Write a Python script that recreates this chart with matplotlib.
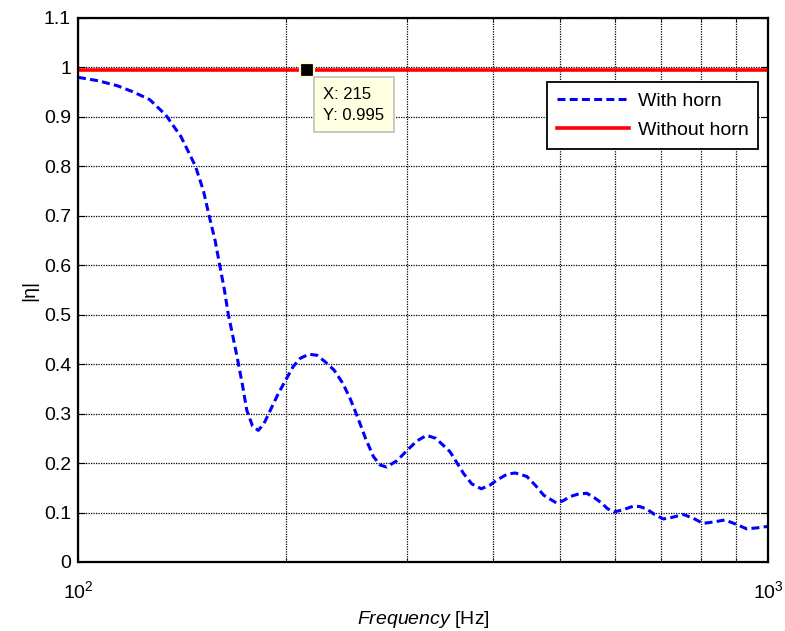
import numpy as np
import matplotlib.pyplot as plt
from matplotlib.ticker import NullFormatter

plt.rcParams['font.family'] = ['Liberation Sans', 'DejaVu Sans']
plt.rcParams['mathtext.fontset'] = 'custom'
plt.rcParams['mathtext.rm'] = 'Liberation Sans'
plt.rcParams['mathtext.it'] = 'Liberation Sans:italic'

# frequency response of the reflection magnitude
freq = [100, 107, 114, 120, 127, 134, 141, 148, 152, 155, 158, 160.6, 163, 165,
        168, 170, 173, 175.6, 179, 182.5, 186, 190, 195, 200, 205, 210, 216, 222,
        228, 235, 242, 248, 254, 261, 268, 274, 280, 290, 300, 310, 320, 330, 346,
        362, 372, 384, 395, 405, 418, 430, 447, 460, 473, 494, 505, 516, 530, 546,
        560, 574, 585, 597, 615, 638, 652, 667, 685, 705, 725, 754, 780, 805, 835,
        866, 900, 931, 965, 1000]
with_horn = [0.980, 0.973, 0.963, 0.951, 0.935, 0.904, 0.860, 0.800, 0.750, 0.698,
             0.650, 0.597, 0.550, 0.503, 0.450, 0.415, 0.360, 0.307, 0.275, 0.266,
             0.280, 0.307, 0.340, 0.368, 0.395, 0.412, 0.420, 0.418, 0.405, 0.388,
             0.361, 0.330, 0.294, 0.250, 0.213, 0.196, 0.192, 0.205, 0.226, 0.245,
             0.256, 0.250, 0.223, 0.179, 0.158, 0.148, 0.155, 0.166, 0.177, 0.180,
             0.173, 0.155, 0.135, 0.119, 0.124, 0.132, 0.137, 0.139, 0.130, 0.119,
             0.108, 0.101, 0.105, 0.113, 0.112, 0.107, 0.096, 0.087, 0.090, 0.096,
             0.088, 0.078, 0.081, 0.085, 0.076, 0.067, 0.069, 0.072]
without_horn = [0.995] * len(freq)

tip_x = 215
tip_y = 0.995

fig = plt.figure(figsize=(7.85, 6.31), dpi=100)
ax = fig.add_axes([0.0994, 0.1094, 0.8790, 0.8621])

ax.semilogx(freq, with_horn, color='#0000ff', lw=2.2, linestyle=(0, (2.6, 1.4)),
            label='With horn')
ax.semilogx(freq, without_horn, color='#ff0000', lw=2.6, label='Without horn')

ax.set_xlim(100, 1000)
ax.set_ylim(0, 1.1)
ax.set_yticks(np.arange(0, 1.11, 0.1))
ax.set_yticklabels(['0', '0.1', '0.2', '0.3', '0.4', '0.5', '0.6', '0.7',
                    '0.8', '0.9', '1', '1.1'])
ax.set_xticks([100, 1000])
ax.set_xticklabels([r'$10^2$', r'$10^3$'])
ax.xaxis.set_minor_formatter(NullFormatter())

ax.grid(True, which='both', color='black', linestyle=(0, (1, 1)), lw=0.9)
ax.tick_params(which='both', direction='in', top=True, right=True,
               labelsize=14, pad=5)
ax.tick_params(which='major', length=5)
ax.tick_params(which='minor', length=3)
ax.tick_params(axis='x', which='major', pad=13)
for s in ax.spines.values():
    s.set_linewidth(1.6)

ax.set_xlabel(r'$\mathit{Frequency}$ [Hz]', fontsize=14, labelpad=5)
ax.set_ylabel('|η|', fontsize=14, labelpad=4)

leg = ax.legend(loc='upper right', bbox_to_anchor=(0.9855, 0.882),
                borderaxespad=0, fontsize=14, fancybox=False, framealpha=1,
                edgecolor='black', handlelength=3.7, borderpad=0.5,
                labelspacing=0.6, handletextpad=0.45)
leg.get_frame().set_linewidth(1.3)

# data tip
ax.plot(tip_x, tip_y, marker='s', ms=9.5, mfc='black', mec='#ffffd8', mew=1.6,
        zorder=5)
ax.annotate(f'X: {tip_x}\nY: {tip_y}', xy=(tip_x, tip_y),
            xytext=(11.4, -12), textcoords='offset points', ha='left', va='top',
            fontsize=12, linespacing=1.55,
            bbox=dict(boxstyle='square,pad=0.55', fc='#ffffe1', ec='#c8c8c8',
                      lw=1.4), zorder=6)

fig.savefig('out.png', dpi=100)
